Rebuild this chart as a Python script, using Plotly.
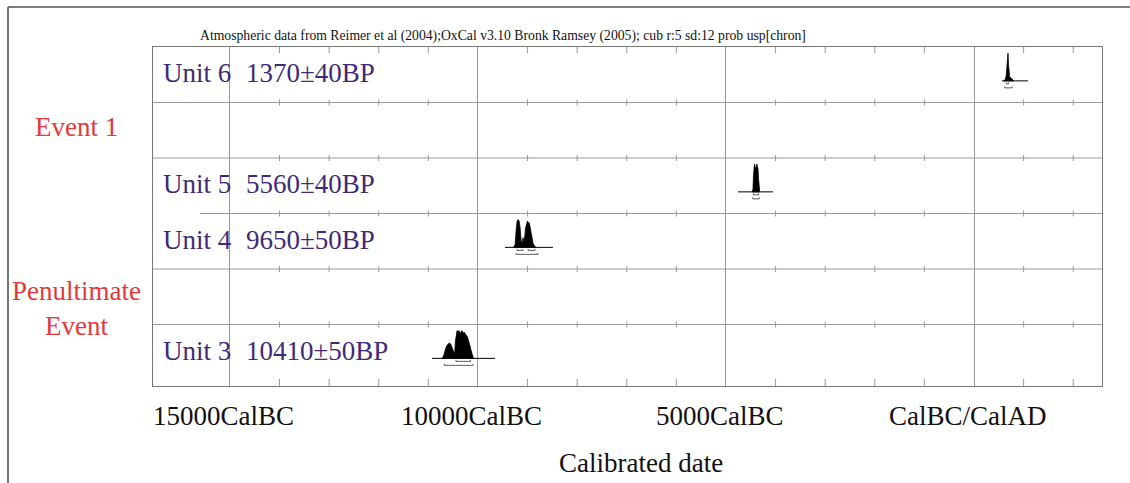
import plotly.graph_objects as go

# ---------------- data ----------------
units = ["Unit 6", "Unit 5", "Unit 4", "Unit 3"]
bp_labels = ["1370±40BP", "5560±40BP", "9650±50BP", "10410±50BP"]
unit_rows = [0, 2, 3, 5]

events = ["Event 1", "Penultimate<br>Event"]
event_rows = [1.44, 4.72]

major_years = [-15000, -10000, -5000, 0]
major_labels = ["15000CalBC", "10000CalBC", "5000CalBC", "CalBC/CalAD"]

# probability distributions (year AD, negative = BC; relative density)
u6_years = [600, 630, 650, 665, 675, 685, 695, 705, 720, 740, 760, 780, 800]
u6_prob = [0, 0.05, 0.2, 0.5, 0.85, 1.0, 0.6, 0.25, 0.1, 0.12, 0.08, 0.02, 0]

u5_years = [-4470, -4455, -4445, -4435, -4425, -4415, -4405, -4395, -4385,
            -4375, -4365, -4355, -4345, -4335, -4320]
u5_prob = [0, 0.1, 0.6, 0.95, 1.0, 0.9, 0.85, 0.88, 0.95, 1.0, 0.9, 0.85, 0.5, 0.12, 0]

u4_years = [-9280, -9250, -9230, -9210, -9190, -9170, -9150, -9130, -9110, -9090,
            -9075, -9060, -9040, -9020, -9000, -8985, -8970, -8950, -8930, -8910,
            -8890, -8860, -8830]
u4_prob = [0, 0.1, 0.6, 0.95, 1.0, 0.95, 0.7, 0.25, 0.15, 0.35, 0.2, 0.3, 0.7,
           0.9, 0.95, 0.85, 0.9, 0.75, 0.55, 0.35, 0.15, 0.05, 0]

u3_years = [-10720, -10690, -10660, -10630, -10600, -10570, -10545, -10520, -10495,
            -10470, -10455, -10440, -10420, -10400, -10380, -10360, -10340, -10320,
            -10300, -10280, -10260, -10240, -10220, -10200, -10180, -10160, -10140,
            -10120, -10100, -10080]
u3_prob = [0, 0.1, 0.3, 0.45, 0.52, 0.55, 0.5, 0.4, 0.25, 0.15, 0.6, 0.9, 1.0, 0.95,
           1.0, 0.9, 0.95, 1.0, 0.9, 0.95, 0.9, 0.85, 0.8, 0.7, 0.6, 0.45, 0.3,
           0.15, 0.05, 0]

dist_years = [u6_years, u5_years, u4_years, u3_years]
dist_probs = [u6_prob, u5_prob, u4_prob, u3_prob]

# plotted range (baseline) of each distribution
plot_ranges = [[563, 1087], [-4758, -4052], [-9455, -8487], [-10926, -9656]]
# 68.2% and 95.4% ranges
ranges_68 = [[[650, 695]], [[-4445, -4345]], [[-9213, -9092], [-8990, -8850]], [[-10442, -10150]]]
ranges_95 = [[[620, 770]], [[-4460, -4330]], [[-9233, -8790]], [[-10680, -10100]]]

# ---------------- figure ----------------
X0, X1 = -16550, 2580
Y_BOTTOM = 6.108
fig = go.Figure()

serif = "Liberation Serif, Times New Roman, serif"
purple = "#3f2a78"
red = "#e5383b"
grid = "#9a9a9a"

BASE = 0.61
HEIGHT = 0.5

for yrs, pr, row in zip(dist_years, dist_probs, unit_rows):
    base = row + BASE
    xs = list(yrs) + [yrs[-1], yrs[0]]
    ys = [base - HEIGHT * p for p in pr] + [base, base]
    fig.add_trace(go.Scatter(x=xs, y=ys, mode="lines", fill="toself",
                             fillcolor="black", line=dict(color="black", width=0.8),
                             hoverinfo="skip", showlegend=False))

for pr_, row in zip(plot_ranges, unit_rows):
    base = row + BASE
    fig.add_trace(go.Scatter(x=pr_, y=[base, base], mode="lines",
                             line=dict(color="black", width=1), hoverinfo="skip",
                             showlegend=False))

def bracket(rngs, row, offset_px):
    for a, b in rngs:
        fig.add_shape(type="path", xref="x", yref="y",
                      ysizemode="pixel", yanchor=row + BASE,
                      path=f"M {a},{-offset_px + 1.5} L {a},{-offset_px} L {b},{-offset_px} L {b},{-offset_px + 1.5}",
                      line=dict(color="#333", width=0.8))

for r68, r95, row in zip(ranges_68, ranges_95, unit_rows):
    bracket(r68, row, 3)
    bracket(r95, row, 7)

# row lines
row_line_starts = {1: X0, 2: X0, 3: -15603, 4: X0, 5: X0}
for k, xs in row_line_starts.items():
    fig.add_shape(type="line", xref="x", yref="y", x0=xs, x1=X1, y0=k, y1=k,
                  line=dict(color=grid, width=1), layer="below")

# minor ticks
minor_years = [y for y in range(-14000, 2001, 1000) if y % 5000 != 0]
for yv in minor_years:
    fig.add_shape(type="line", xref="x", yref="y", x0=yv, x1=yv,
                  ysizemode="pixel", yanchor=0, y0=0, y1=-6,
                  line=dict(color=grid, width=1))
    fig.add_shape(type="line", xref="x", yref="y", x0=yv, x1=yv,
                  ysizemode="pixel", yanchor=Y_BOTTOM, y0=0, y1=7,
                  line=dict(color=grid, width=1))
    for k in range(1, 6):
        fig.add_shape(type="line", xref="x", yref="y", x0=yv, x1=yv,
                      ysizemode="pixel", yanchor=k, y0=-3, y1=3,
                      line=dict(color=grid, width=1))

# outer frame (left and top)
TOP_Y = (386 - 7) / 339
fig.add_shape(type="line", xref="paper", yref="paper", x0=-145 / 949, x1=-145 / 949,
              y0=-2, y1=TOP_Y, line=dict(color="#555", width=1.6))
fig.add_shape(type="line", xref="paper", yref="paper", x0=-145 / 949, x1=1.1,
              y0=TOP_Y, y1=TOP_Y, line=dict(color="#555", width=1.6))

# unit labels
for name, bp, row in zip(units, bp_labels, unit_rows):
    fig.add_annotation(x=-16550, y=row + 0.47, xref="x", yref="y", text=name,
                       showarrow=False, xanchor="left", xshift=8,
                       font=dict(family=serif, size=27, color=purple))
    fig.add_annotation(x=-15000, y=row + 0.47, xref="x", yref="y", text=bp,
                       showarrow=False, xanchor="left", xshift=14,
                       font=dict(family=serif, size=27, color=purple))

# event labels
for ev, r in zip(events, event_rows):
    fig.add_annotation(x=0, y=r, xref="paper", yref="y", text=ev,
                       showarrow=False, xanchor="center", xshift=-77,
                       font=dict(family=serif, size=27, color=red))

# x tick labels
for yv, lab in zip(major_years, major_labels):
    fig.add_annotation(x=yv, y=0, xref="x", yref="paper", text=lab, showarrow=False,
                       yanchor="middle", yshift=-30, xshift=-6,
                       font=dict(family=serif, size=27, color="#111"))

fig.add_annotation(x=(641 - 153) / 949, y=0, xref="paper", yref="paper",
                   text="Calibrated date", showarrow=False, yanchor="middle", yshift=-77,
                   font=dict(family=serif, size=27, color="#111"))

fig.add_annotation(x=(503 - 153) / 949, y=1, xref="paper", yref="paper",
                   text="Atmospheric data from Reimer et al (2004);OxCal v3.10 Bronk Ramsey (2005); cub r:5 sd:12 prob usp[chron]",
                   showarrow=False, yanchor="middle", yshift=11,
                   font=dict(family=serif, size=13.7, color="#111"))

fig.update_xaxes(range=[X0, X1], tickvals=major_years, showticklabels=False,
                 showgrid=True, gridcolor=grid, gridwidth=1, zeroline=False,
                 showline=True, mirror=True, linecolor="#777", linewidth=1, ticks="")
fig.update_yaxes(range=[Y_BOTTOM, 0], showticklabels=False, showgrid=False,
                 zeroline=False, showline=True, mirror=True, linecolor="#777",
                 linewidth=1, ticks="")

fig.update_layout(width=1130, height=483, margin=dict(l=153, r=28, t=47, b=97),
                  paper_bgcolor="white", plot_bgcolor="white", showlegend=False)

fig.write_html("out.html", config={"displayModeBar": False},
               post_script="document.body.style.margin='0px';document.body.style.overflow='hidden';")
